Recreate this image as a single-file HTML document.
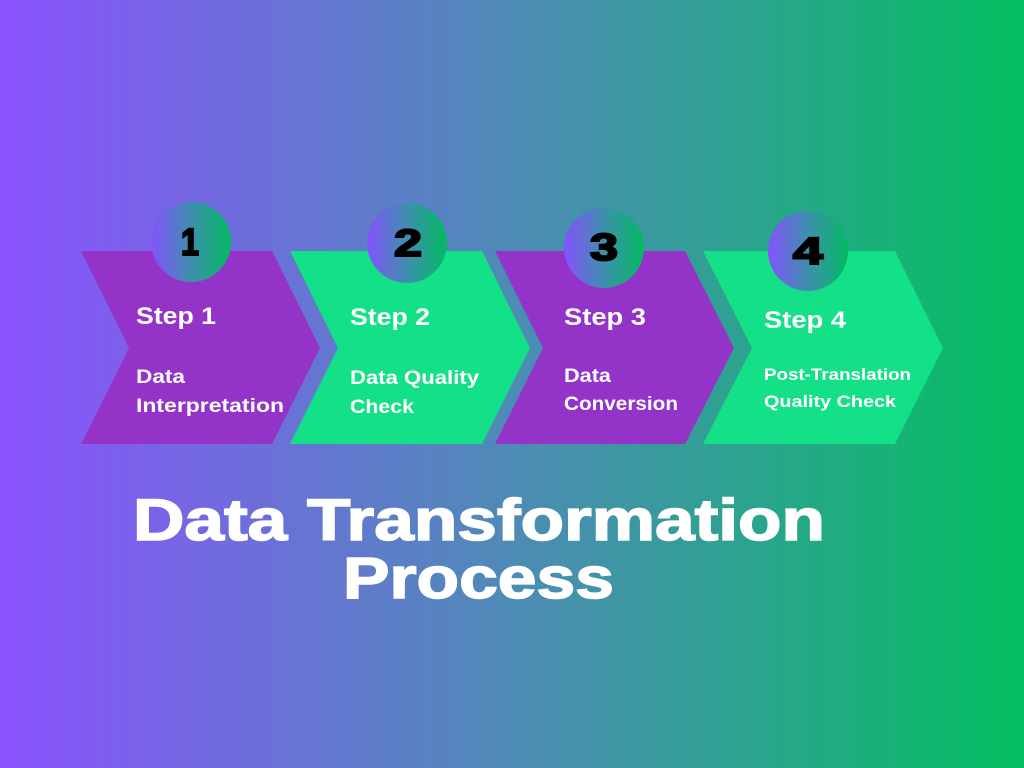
<!DOCTYPE html>
<html><head><meta charset="utf-8"><style>html,body{margin:0;padding:0}svg{display:block}</style></head>
<body>
<svg width="1024" height="768" viewBox="0 0 1024 768" xmlns="http://www.w3.org/2000/svg" font-family="Liberation Sans, sans-serif">
<defs>
<linearGradient id="bg" x1="0" x2="1" y1="0" y2="0">
<stop offset="0" stop-color="#8b52fe"/><stop offset="0.5" stop-color="#4e8bb6"/><stop offset="1" stop-color="#03bf60"/>
</linearGradient>
<linearGradient id="cg" x1="0" x2="1" y1="0" y2="0">
<stop offset="0" stop-color="#8552fd"/><stop offset="0.5" stop-color="#3e8fae"/><stop offset="1" stop-color="#02ba62"/>
</linearGradient>
</defs>
<rect width="1024" height="768" fill="url(#bg)"/>
<polygon points="81,251 272,251 320,348 272,444 81,444 129,348" fill="#9333c8"/>
<polygon points="290,251 482,251 530,348 482,444 290,444 338,348" fill="#14e087"/>
<polygon points="495,251 685,251 734,348 685,444 495,444 543,348" fill="#9333c8"/>
<polygon points="703,251 895,251 943,348 895,444 703,444 752,348" fill="#14e087"/>
<g fill="url(#cg)">
<circle cx="191" cy="242" r="40"/><circle cx="407" cy="243" r="40"/>
<circle cx="604" cy="248" r="40"/><circle cx="808" cy="251" r="40"/>
</g>
<g fill="#000" stroke="#000" stroke-width="2" font-weight="bold" font-size="38" text-anchor="middle">
<text x="190" y="255" textLength="18" lengthAdjust="spacingAndGlyphs">1</text>
<text x="408" y="256" textLength="28" lengthAdjust="spacingAndGlyphs">2</text>
<text x="604" y="260" textLength="28" lengthAdjust="spacingAndGlyphs">3</text>
<text x="808" y="264" textLength="30" lengthAdjust="spacingAndGlyphs">4</text>
</g>
<g fill="#fff" font-weight="bold">
<text x="136" y="324" font-size="24" textLength="80" lengthAdjust="spacingAndGlyphs">Step 1</text>
<text x="350" y="325" font-size="24" textLength="80" lengthAdjust="spacingAndGlyphs">Step 2</text>
<text x="564" y="325" font-size="24" textLength="82" lengthAdjust="spacingAndGlyphs">Step 3</text>
<text x="764" y="328" font-size="24" textLength="82" lengthAdjust="spacingAndGlyphs">Step 4</text>
<g font-size="19">
<text x="136" y="383" textLength="49" lengthAdjust="spacingAndGlyphs">Data</text>
<text x="136" y="412" textLength="148" lengthAdjust="spacingAndGlyphs">Interpretation</text>
<text x="350" y="384" textLength="129" lengthAdjust="spacingAndGlyphs">Data Quality</text>
<text x="350" y="413" textLength="64" lengthAdjust="spacingAndGlyphs">Check</text>
<text x="564" y="382" textLength="47" lengthAdjust="spacingAndGlyphs">Data</text>
<text x="564" y="410" textLength="114" lengthAdjust="spacingAndGlyphs">Conversion</text>
</g>
<g font-size="17">
<text x="764" y="380" textLength="147" lengthAdjust="spacingAndGlyphs">Post-Translation</text>
<text x="764" y="407" textLength="132" lengthAdjust="spacingAndGlyphs">Quality Check</text>
</g>
<g font-size="58" stroke="#fff" stroke-width="1.5">
<text x="133" y="540" textLength="692" lengthAdjust="spacingAndGlyphs">Data Transformation</text>
<text x="343" y="598" textLength="271" lengthAdjust="spacingAndGlyphs">Process</text>
</g>
</g>
</svg>
</body></html>
